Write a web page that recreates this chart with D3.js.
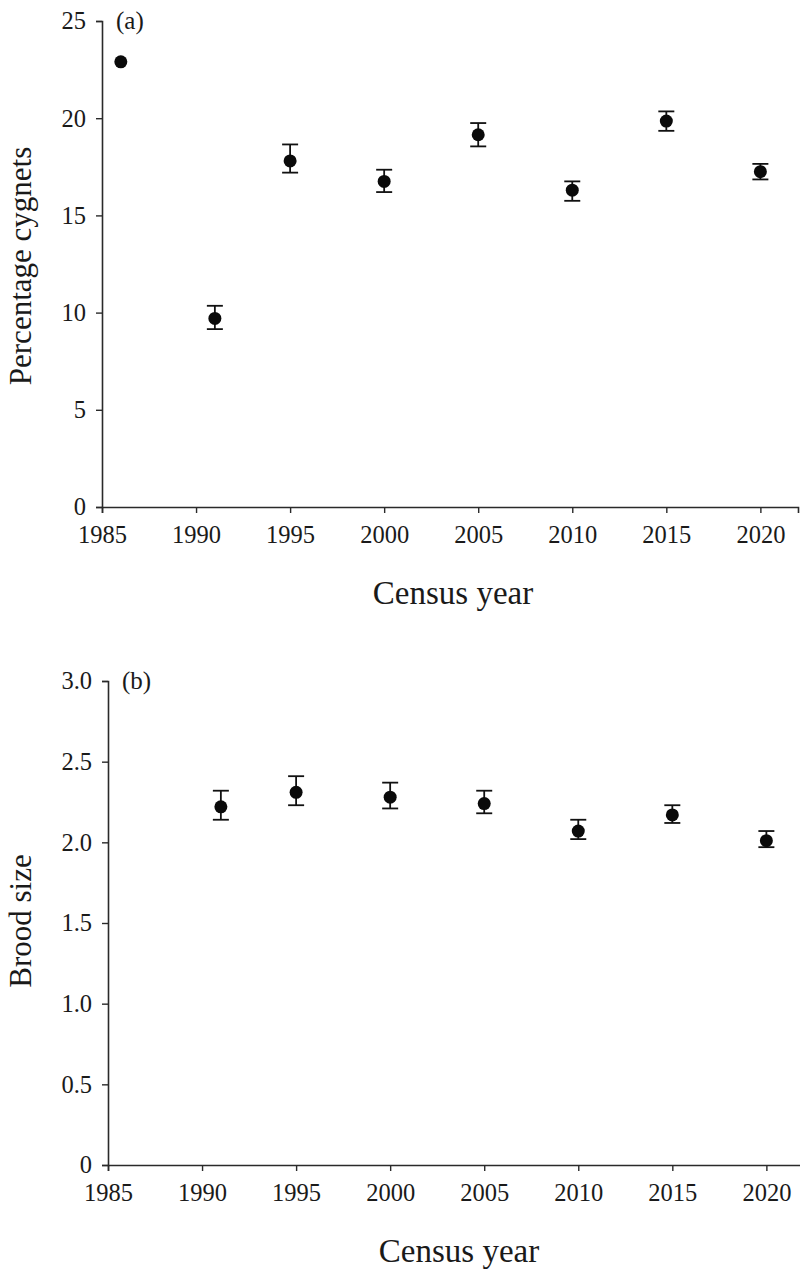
<!DOCTYPE html>
<html>
<head>
<meta charset="utf-8">
<script src="https://cdn.jsdelivr.net/npm/d3@7"></script>
<style>
  html, body { margin: 0; padding: 0; background: #fff; }
  svg { display: block; }
  text { font-family: "Liberation Serif", "DejaVu Serif", serif; fill: #1a1a1a; }
</style>
</head>
<body>
<svg id="chart" width="800" height="1273"></svg>
<script>
// ---- Data ----
const xTicks = [1985, 1990, 1995, 2000, 2005, 2010, 2015, 2020];

// Panel (a): percentage cygnets
const yearsA = [1986, 1991, 1995, 2000, 2005, 2010, 2015, 2020];
const pctCygnets = [22.9, 9.7, 17.8, 16.75, 19.15, 16.3, 19.85, 17.25];
const pctLow = [22.9, 9.15, 17.2, 16.2, 18.55, 15.75, 19.35, 16.85];
const pctHigh = [22.9, 10.35, 18.65, 17.35, 19.75, 16.75, 20.35, 17.65];
const yTicksA = [0, 5, 10, 15, 20, 25];

// Panel (b): brood size
const yearsB = [1991, 1995, 2000, 2005, 2010, 2015, 2020];
const broodSize = [2.22, 2.31, 2.28, 2.24, 2.07, 2.17, 2.01];
const broodLow = [2.14, 2.23, 2.21, 2.18, 2.02, 2.12, 1.97];
const broodHigh = [2.32, 2.41, 2.37, 2.32, 2.14, 2.23, 2.07];
const yTicksB = [0, 0.5, 1.0, 1.5, 2.0, 2.5, 3.0];

const svg = d3.select("#chart");

function panel(opts) {
  const { left, right, top, bottom, yMax, yTicks, yFmt, years, vals, lo, hi, label, yTitle, yTitleY } = opts;
  const x = d3.scaleLinear().domain([1985, 2022]).range([left, right]);
  const y = d3.scaleLinear().domain([0, yMax]).range([bottom, top]);
  const g = svg.append("g");

  // x axis
  const xa = g.append("g").attr("transform", `translate(0,${bottom})`)
    .call(d3.axisBottom(x).tickValues(xTicks).tickFormat(d3.format("d")).tickSizeOuter(0).tickSize(6).tickPadding(13));
  // y axis
  const ya = g.append("g").attr("transform", `translate(${left},0)`)
    .call(d3.axisLeft(y).tickValues(yTicks).tickFormat(yFmt).tickSizeOuter(0).tickSize(6).tickPadding(10));
  [xa, ya].forEach(a => {
    a.select(".domain").attr("stroke", "#2a2a2a").attr("stroke-width", 1.6);
    a.selectAll(".tick line").attr("stroke", "#2a2a2a").attr("stroke-width", 1.4);
    a.selectAll(".tick text").attr("font-size", 24.5).attr("fill", "#1a1a1a")
      .attr("font-family", "'Liberation Serif', serif");
  });

  // error bars
  const capW = 8;
  const eb = g.append("g").attr("stroke", "#111").attr("stroke-width", 1.8);
  years.forEach((yr, i) => {
    if (hi[i] - lo[i] > 0.001) {
      eb.append("line").attr("x1", x(yr)).attr("x2", x(yr)).attr("y1", y(lo[i])).attr("y2", y(hi[i]));
      eb.append("line").attr("x1", x(yr) - capW).attr("x2", x(yr) + capW).attr("y1", y(hi[i])).attr("y2", y(hi[i]));
      eb.append("line").attr("x1", x(yr) - capW).attr("x2", x(yr) + capW).attr("y1", y(lo[i])).attr("y2", y(lo[i]));
    }
  });
  // points
  g.append("g").selectAll("circle").data(years).join("circle")
    .attr("cx", d => x(d)).attr("cy", (d, i) => y(vals[i])).attr("r", 6.5).attr("fill", "#0a0a0a");

  // panel label
  g.append("text").attr("x", left + 14).attr("y", top + 8).attr("font-size", 25).text(label);

  // x title
  g.append("text").attr("x", (left + right) / 2 + 3).attr("y", bottom + 97)
    .attr("text-anchor", "middle").attr("font-size", 33).text("Census year");
  // y title
  g.append("text").attr("transform", `translate(31,${yTitleY}) rotate(-90)`)
    .attr("text-anchor", "middle").attr("font-size", 31).text(yTitle);
}

panel({ left: 102, right: 798, top: 21, bottom: 507, yMax: 25, yTicks: yTicksA, yFmt: d3.format("d"),
  years: yearsA, vals: pctCygnets, lo: pctLow, hi: pctHigh, label: "(a)", yTitle: "Percentage cygnets", yTitleY: 266 });
panel({ left: 108, right: 804, top: 681, bottom: 1165, yMax: 3, yTicks: yTicksB, yFmt: d => d === 0 ? "0" : d3.format(".1f")(d),
  years: yearsB, vals: broodSize, lo: broodLow, hi: broodHigh, label: "(b)", yTitle: "Brood size", yTitleY: 921 });
</script>
</body>
</html>
